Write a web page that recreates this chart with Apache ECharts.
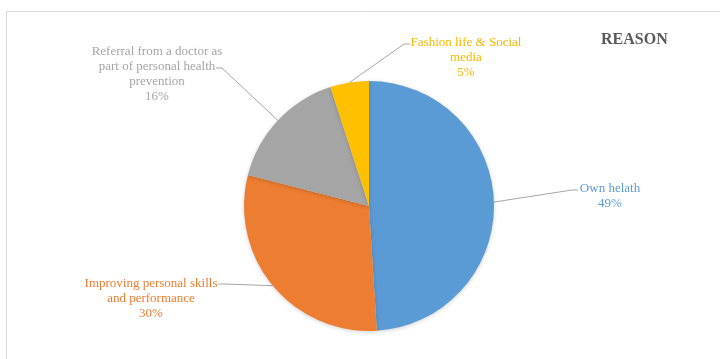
<!DOCTYPE html>
<html>
<head>
<meta charset="utf-8">
<script src="https://cdn.jsdelivr.net/npm/echarts@6/dist/echarts.min.js"></script>
<style>
  html, body { margin: 0; padding: 0; background: #fff; }
  #chart { width: 720px; height: 359px; }
</style>
</head>
<body>
<div id="chart"></div>
<script>
// ---- data ----
const categories = [
  'Own helath',
  'Improving personal skills\nand performance',
  'Referral from a doctor as\npart of personal health\nprevention',
  'Fashion life & Social\nmedia'
];
const values = [49, 30, 16, 5];
const title = 'REASON';

// ---- style / layout ----
const colors = ['#5B9BD5', '#ED7D31', '#A5A5A5', '#FFC000'];
const labelColors = ['#5B9BD5', '#ED7D31', '#A5A5A5', '#F5B800'];
// label centre x, label top y, leader end point, bend direction
const labelPlace = [
  { x: 610, y: 181, end: [578, 190], dx: -6 },
  { x: 151, y: 276, end: [218, 284], dx: 6 },
  { x: 157, y: 44,  end: [216, 68],  dx: 6 },
  { x: 466, y: 35,  end: [410, 44],  dx: -6 }
];

const chart = echarts.init(document.getElementById('chart'));
chart.setOption({
  animation: false,
  title: {
    text: title,
    left: 596, top: 27,
    textStyle: { fontFamily: 'Liberation Serif', fontSize: 16, fontWeight: 'bold', color: '#595959' }
  },
  graphic: [{
    type: 'rect',
    shape: { x: 6.5, y: 11.5, width: 800, height: 400 },
    style: { fill: 'none', stroke: '#D9D9D9', lineWidth: 1 },
    silent: true, z: -1
  }],
  series: [{
    type: 'pie',
    center: [369, 206],
    radius: 125,
    startAngle: 90,
    clockwise: true,
    avoidLabelOverlap: false,
    itemStyle: { borderWidth: 0, shadowBlur: 4, shadowColor: 'rgba(0,0,0,0.18)', shadowOffsetY: 1 },
    label: {
      show: true,
      position: 'outside',
      fontFamily: 'Liberation Serif',
      fontSize: 13,
      lineHeight: 15,
      align: 'center',
      formatter: function (p) { return p.name + '\n' + p.value + '%'; }
    },
    labelLine: { show: true, length: 20, length2: 10, smooth: false,
      lineStyle: { color: '#A6A6A6', width: 1 } },
    labelLayout: function (params) {
      const lp = labelPlace[params.dataIndex];
      const pts = params.labelLinePoints;
      const anchor = pts ? pts[0] : [0, 0];
      return {
        x: lp.x, y: lp.y, align: 'center', verticalAlign: 'top',
        labelLinePoints: [anchor, [lp.end[0] + lp.dx, lp.end[1]], lp.end]
      };
    },
    data: categories.map(function (c, i) {
      return {
        name: c, value: values[i],
        itemStyle: { color: colors[i] },
        label: { color: labelColors[i] }
      };
    })
  }]
});
</script>
</body>
</html>
